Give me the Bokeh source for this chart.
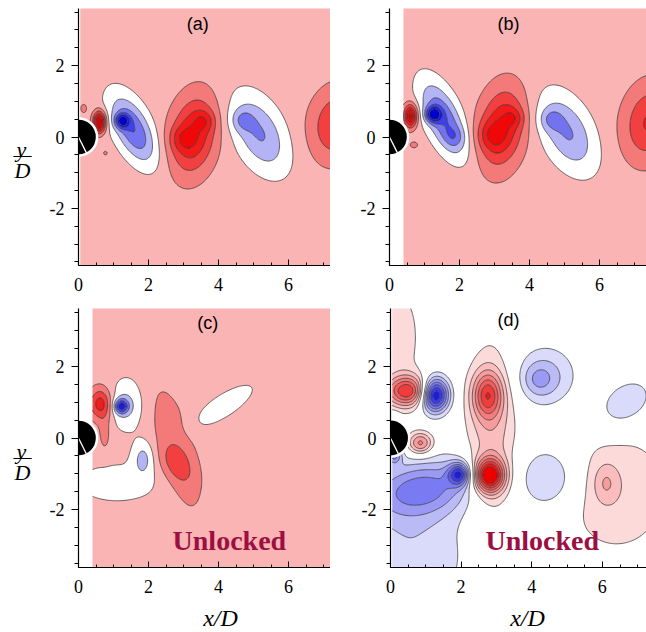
import numpy as np
from bokeh.plotting import figure
from bokeh.layouts import column, row
from bokeh.models import FixedTicker, Label
from bokeh.embed import file_html
from bokeh.resources import INLINE

# ---------------- tick labels / texts ----------------
X_TICKS = [0, 2, 4, 6]
Y_TICKS = [-2, 0, 2]
X_MINOR = [0.5 * i for i in range(16)]
Y_MINOR = [-3.5 + 0.5 * i for i in range(15)]
PANEL_TAGS = ["(a)", "(b)", "(c)", "(d)"]
NOTE = "Unlocked"
X_TITLE = "x/D"

# ---------------- contour levels and colours ----------------
LEV_ABC = [-1000, -5, -4, -3, -2, -1, 0, 1, 2, 3, 4, 5, 1000]
COL_ABC = ["#0000d0", "#1a1ae6", "#3f3fef", "#7373f0", "#b3b3f5", "#ffffff",
           "#fab4b4", "#f47a7a", "#f24040", "#f31a1a", "#f00808", "#e00000"]
BASE_ABC = 0.5
LEV_D = [-1000, -8, -7, -6, -5, -4, -3, -2, -1, 1, 2, 3, 4, 5, 6, 7, 8, 1000]
COL_D = ["#0000dc", "#1c1ce6", "#3a3aec", "#5a5af0", "#7a7af2", "#9a9af4", "#babaf7", "#dadafb",
         "#ffffff",
         "#fcdada", "#fabcbc", "#f79c9c", "#f57c7c", "#f35c5c", "#f13c3c", "#f01c1c", "#ee0000"]
BASE_D = 0.0

# ---------------- vortex structures ----------------
# columns: centre x, centre y, strength, size along tilt, size across, tilt (deg)
A_X = [0.60, 0.15, 0.77, 1.56, 1.25, 3.28, 2.95, 3.60, 5.17, 4.67, 7.35]
A_Y = [0.42, 0.80, -0.45, 0.21, 0.45, 0.05, -0.05, 0.45, 0.10, 0.47, 0.35]
A_S = [6.0, 1.0, 0.9, -3.5, -4.0, 3.4, 1.2, 1.3, -2.6, -1.3, 2.5]
A_A = [0.12, 0.07, 0.05, 0.72, 0.14, 0.78, 0.25, 0.20, 0.80, 0.22, 0.70]
A_B = [0.20, 0.10, 0.05, 0.34, 0.14, 0.45, 0.25, 0.20, 0.46, 0.22, 0.50]
A_T = [0, 0, 0, -62, 0, 80, 0, 0, -62, 0, 80]

B_X = [0.60, 0.70, 1.55, 1.25, 1.85, 3.20, 2.90, 3.55, 5.08, 4.60, 7.40]
B_Y = [0.59, -0.22, 0.50, 0.63, 0.00, 0.25, 0.05, 0.54, 0.13, 0.49, 0.40]
B_S = [5.0, 1.0, -3.5, -4.5, -1.0, 3.4, 1.3, 1.2, -2.6, -1.3, 2.6]
B_A = [0.13, 0.09, 0.78, 0.15, 0.20, 0.80, 0.28, 0.20, 0.80, 0.22, 0.75]
B_B = [0.22, 0.07, 0.33, 0.15, 0.20, 0.45, 0.28, 0.20, 0.46, 0.22, 0.50]
B_T = [0, 0, -64, 0, 0, 80, 0, 0, -62, 0, 80]

C_X = [0.62, 0.75, 1.38, 1.22, 1.10, 1.85, 2.80, 2.80, 4.15]
C_Y = [0.95, 0.15, 0.93, 0.88, -1.25, -0.55, -0.30, -0.75, 0.90]
C_S = [3.0, 0.9, -1.6, -4.0, -1.0, -1.7, 1.2, 1.3, -1.0]
C_A = [0.22, 0.12, 0.32, 0.14, 0.90, 0.22, 1.25, 0.42, 0.80]
C_B = [0.30, 0.38, 0.50, 0.14, 0.42, 0.35, 0.38, 0.27, 0.26]
C_T = [0, 0, 0, 0, 0, 0, -74, -55, 32]

D_X = [0.30, 0.50, 1.25, 0.85, 0.10, 0.10, 0.90, 0.60, 1.95, 2.80, 2.75, 2.85, 4.38, 4.18, 4.48, 6.65, 6.40, 6.10]
D_Y = [2.80, 1.30, 1.20, -0.15, -0.45, 0.60, -1.40, -3.20, -1.00, -1.05, 1.20, 0.20, 1.70, 1.62, -1.12, 0.95, -1.50, -1.25]
D_S = [1.5, 6.5, -9.0, 4.5, -4.0, -1.3, -4.2, -1.9, -5.5, 9.0, 5.0, 2.6, -2.4, -1.3, -2.4, -2.2, 1.7, 1.6]
D_A = [0.45, 0.45, 0.28, 0.25, 0.15, 0.10, 1.10, 1.20, 0.22, 0.30, 0.30, 0.50, 0.62, 0.30, 0.60, 0.60, 1.25, 0.25]
D_B = [1.20, 0.30, 0.33, 0.22, 0.18, 0.10, 0.55, 1.20, 0.22, 0.33, 0.45, 1.70, 0.60, 0.30, 0.62, 0.42, 1.40, 0.38]
D_T = [0, 0, 0, 0, 0, 0, 8, 0, 0, 0, 0, 0, 0, 0, 0, 35, 0, 0]

# first measured column of each panel
X_START = [0.05, 0.40, 0.40, 0.05]

# cylinder
CYL_R = 0.53
CYL_MARK_ANGLE = -63.0

FONT_SERIF = "Liberation Serif"
FONT_SANS = "Liberation Sans"


def field(xs, ys, base, X, Y, S, A, B, T):
    XX, YY = np.meshgrid(xs, ys)
    Z = np.full_like(XX, base)
    for x0, y0, s, a, b, t in zip(X, Y, S, A, B, T):
        th = np.deg2rad(t)
        dx, dy = XX - x0, YY - y0
        u = dx * np.cos(th) + dy * np.sin(th)
        v = -dx * np.sin(th) + dy * np.cos(th)
        Z += s * np.exp(-0.5 * ((u / a) ** 2 + (v / b) ** 2))
    return Z


def style_axis(ax):
    ax.axis_line_color = "black"
    ax.axis_line_width = 1.2
    ax.major_tick_line_color = "black"
    ax.minor_tick_line_color = "black"
    ax.major_label_text_font = FONT_SERIF
    ax.major_label_text_font_size = "18px"
    ax.major_label_text_font_style = "normal"
    ax.major_label_text_color = "black"


def make_panel(width, height, bottom, left, xmax, x_start, base, vort, levels, colors,
               tag, tag_xy, note_xy=None):
    p = figure(width=width, height=height, x_range=(0, xmax), y_range=(-3.6, 3.6),
               output_backend="svg", toolbar_location=None,
               min_border_left=left, min_border_right=0, min_border_top=8,
               min_border_bottom=bottom)
    p.outline_line_color = None
    p.xgrid.grid_line_color = None
    p.ygrid.grid_line_color = None
    p.background_fill_color = "white"
    p.border_fill_color = "white"

    xs = np.arange(x_start, 7.61, 0.03)
    ys = np.arange(-3.7, 3.71, 0.03)
    Z = field(xs, ys, base, *vort)
    p.contour(xs, ys, Z, levels, fill_color=colors, line_color="#2a2a2a", line_width=0.7)

    # cylinder
    p.circle(x=[0], y=[0], radius=CYL_R, fill_color="black", line_color="white", line_width=2.5)
    ang = np.deg2rad(CYL_MARK_ANGLE)
    p.segment(x0=[0], y0=[0], x1=[CYL_R * np.cos(ang)], y1=[CYL_R * np.sin(ang)],
              line_color="white", line_width=1.3)

    xax = p.xaxis[0]
    yax = p.yaxis[0]
    style_axis(xax)
    style_axis(yax)
    xax.ticker = FixedTicker(ticks=X_TICKS, minor_ticks=X_MINOR)
    yax.ticker = FixedTicker(ticks=Y_TICKS, minor_ticks=Y_MINOR)
    yax.major_label_overrides = {t: str(t) for t in Y_TICKS}
    xax.major_tick_in = 6
    xax.major_tick_out = 0
    xax.minor_tick_in = 3
    xax.minor_tick_out = 0
    yax.major_tick_in = 0
    yax.major_tick_out = 7
    yax.minor_tick_in = 0
    yax.minor_tick_out = 4
    xax.major_label_standoff = 12
    yax.major_label_standoff = 7

    p.add_layout(Label(x=tag_xy[0], y=tag_xy[1], text=tag, text_font=FONT_SANS,
                       text_font_size="18px", text_align="center", text_baseline="middle",
                       text_color="black"))
    if note_xy is not None:
        p.add_layout(Label(x=note_xy[0], y=note_xy[1], text=NOTE, text_font=FONT_SERIF,
                           text_font_style="bold", text_font_size="28px", text_align="center",
                           text_baseline="middle", text_color="#9c0f42"))
    return p


def ylabel_strip(height, bottom, bar_y):
    f = figure(width=38, height=height, x_range=(0, 38), y_range=(-3.6, 3.6),
               x_axis_type=None, y_axis_type=None, output_backend="svg", toolbar_location=None,
               min_border_left=0, min_border_right=0, min_border_top=8, min_border_bottom=bottom)
    f.outline_line_color = None
    f.xgrid.grid_line_color = None
    f.ygrid.grid_line_color = None
    f.add_layout(Label(x=21, y=bar_y + 0.16, text="y", text_font=FONT_SERIF,
                       text_font_style="italic", text_font_size="22px", text_align="center",
                       text_baseline="alphabetic", text_color="black"))
    f.add_layout(Label(x=22, y=bar_y, text="\u2014", text_font=FONT_SERIF,
                       text_font_size="18px", text_align="center",
                       text_baseline="middle", text_color="black"))
    f.add_layout(Label(x=22, y=bar_y - 0.08, text="D", text_font=FONT_SERIF,
                       text_font_style="italic", text_font_size="22px", text_align="center",
                       text_baseline="top", text_color="black"))
    return f


def xlabel_strip(centres):
    f = figure(width=646, height=31, x_range=(0, 646), y_range=(0, 31),
               x_axis_type=None, y_axis_type=None, output_backend="svg", toolbar_location=None,
               min_border_left=0, min_border_right=0, min_border_top=0, min_border_bottom=0)
    f.outline_line_color = None
    f.xgrid.grid_line_color = None
    f.ygrid.grid_line_color = None
    for cx in centres:
        f.add_layout(Label(x=cx, y=15, text=X_TITLE, text_font=FONT_SERIF,
                           text_font_style="italic", text_font_size="24px", text_align="center",
                           text_baseline="middle", text_color="black"))
    return f


la = ylabel_strip(300, 35, -0.50)
pa = make_panel(292, 300, 35, 40, 7.2, X_START[0], BASE_ABC, (A_X, A_Y, A_S, A_A, A_B, A_T),
                LEV_ABC, COL_ABC, PANEL_TAGS[0], (3.41, 3.17))
pb = make_panel(316, 300, 35, 59, 7.34, X_START[1], BASE_ABC, (B_X, B_Y, B_S, B_A, B_B, B_T),
                LEV_ABC, COL_ABC, PANEL_TAGS[1], (3.4, 3.17))
lc = ylabel_strip(301, 34, -0.53)
pc = make_panel(292, 301, 34, 40, 7.2, X_START[2], BASE_ABC, (C_X, C_Y, C_S, C_A, C_B, C_T),
                LEV_ABC, COL_ABC, PANEL_TAGS[2], (3.69, 3.2), note_xy=(4.31, -2.84))
pd = make_panel(316, 301, 34, 60, 7.25, X_START[3], BASE_D, (D_X, D_Y, D_S, D_A, D_B, D_T),
                LEV_D, COL_D, PANEL_TAGS[3], (3.34, 3.27), note_xy=(4.3, -2.84))
xl = xlabel_strip([220, 527])

layout = column(row(la, pa, pb), row(lc, pc, pd), xl)
open("out.html", "w").write(file_html(layout, INLINE))
